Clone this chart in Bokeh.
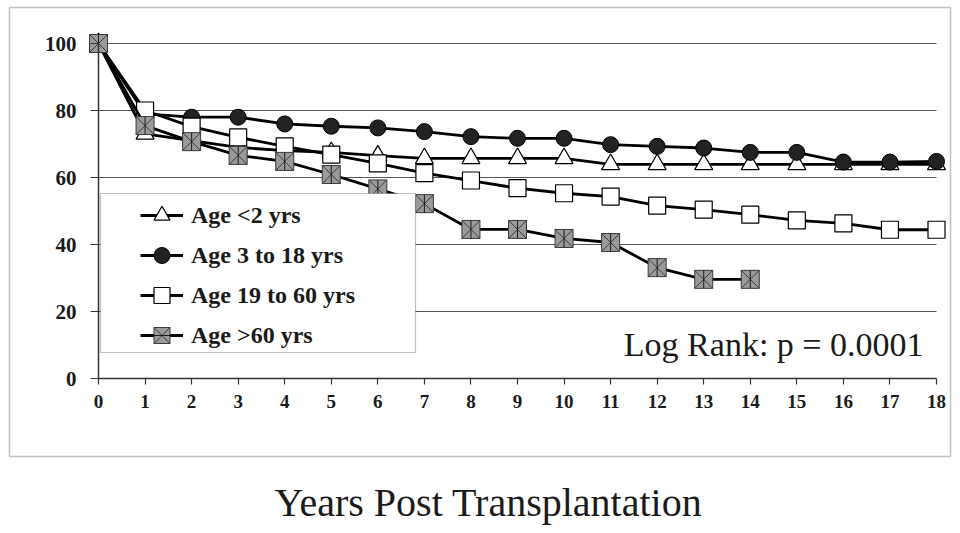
from bokeh.plotting import figure
from bokeh.models import (Range1d, Legend, LegendItem, BoxAnnotation, Label,
                          FixedTicker)
from bokeh.embed import file_html
from bokeh.resources import INLINE
import math

# ---------------- data ----------------
years = list(range(19))
years_gt60 = list(range(15))
age_lt2 = [100, 73, 71, 69, 68, 67.5, 66.5, 65.7, 65.7, 65.7, 65.7,
           63.9, 63.9, 63.9, 63.9, 63.9, 63.9, 63.9, 63.9]
age_3_18 = [100, 79, 78, 78, 76, 75.3, 74.8, 73.7, 72.2, 71.7, 71.7,
            69.8, 69.3, 68.8, 67.5, 67.5, 64.6, 64.6, 64.8]
age_19_60 = [100, 80, 75.2, 72, 69.3, 66.8, 64.2, 61.3, 59.1, 56.8, 55.3,
             54.3, 51.6, 50.4, 48.9, 47.2, 46.3, 44.4, 44.4]
age_gt60 = [100, 75.5, 70.7, 66.6, 64.8, 60.9, 56.6, 52.2, 44.5, 44.5,
            41.8, 40.6, 33.1, 29.6, 29.6]
series_names = ["Age <2 yrs", "Age 3 to 18 yrs", "Age 19 to 60 yrs", "Age >60 yrs"]
y_ticks = [0, 20, 40, 60, 80, 100]
x_ticks = years
grid_levels = [20, 40, 60, 80, 100]
x_title = "Years Post Transplantation"
note = "Log Rank: p = 0.0001"

SERIF = "Liberation Serif"
INK = "#1a1a1a"

W, H = 952, 525
# pixel geometry of the plotting area (x: 0..18 -> 98..936, y: 0..100 -> 378..43)
PX0, PX1, PY0, PY1 = 98.0, 936.0, 378.0, 43.0
ppx = (PX1 - PX0) / 18.0
ppy = (PY0 - PY1) / 100.0
xr = Range1d(-PX0 / ppx, (W - PX0) / ppx)
yr = Range1d(-(H - PY0) / ppy, PY0 / ppy)


def dx(px):
    return (px - PX0) / ppx


def dy(py):
    return (PY0 - py) / ppy


p = figure(width=W, height=H, x_range=xr, y_range=yr,
           output_backend="svg", toolbar_location=None, min_border=0)
p.outline_line_color = None
p.xgrid.visible = False
p.ygrid.visible = False
p.background_fill_color = "white"
p.border_fill_color = "white"

# axes
for ax in (p.xaxis[0], p.yaxis[0]):
    ax.fixed_location = 0
    ax.axis_line_color = "#333333"
    ax.axis_line_width = 1.5
    ax.major_tick_line_color = "#333333"
    ax.major_tick_line_width = 1.2
    ax.major_tick_in = 0
    ax.minor_tick_line_color = None
    ax.major_label_text_font = SERIF
    ax.major_label_text_font_style = "bold"
    ax.major_label_text_color = INK
p.xaxis.bounds = (0, 18)
p.yaxis.bounds = (0, 100)
p.xaxis.ticker = FixedTicker(ticks=x_ticks)
p.yaxis.ticker = FixedTicker(ticks=y_ticks)
p.xaxis.major_tick_out = 6
p.yaxis.major_tick_out = 8
p.xaxis.major_label_standoff = 10
p.yaxis.major_label_standoff = 14
p.xaxis.major_label_text_font_size = "19px"
p.yaxis.major_label_text_font_size = "21px"

# horizontal gridlines
p.segment(x0=[0] * len(grid_levels), x1=[18] * len(grid_levels),
          y0=grid_levels, y1=grid_levels, line_color="#555555", line_width=1.2)

LW = 2.8
# Age <2
l1 = p.line(years, age_lt2, line_color="black", line_width=LW)
m1 = p.scatter(years, age_lt2, marker="triangle", size=18,
               fill_color="white", line_color="black", line_width=1.2)
# Age 3-18
l2 = p.line(years, age_3_18, line_color="black", line_width=LW)
m2 = p.scatter(years, age_3_18, marker="circle", size=16,
               fill_color="#222222", line_color="black", line_width=1)
# Age 19-60
l3 = p.line(years, age_19_60, line_color="black", line_width=LW)
m3 = p.scatter(years, age_19_60, marker="square", size=17,
               fill_color="white", line_color="black", line_width=1.2)
# Age >60
l4 = p.line(years_gt60, age_gt60, line_color="black", line_width=LW)
m4a = p.scatter(years_gt60, age_gt60, marker="square_x", size=18,
                fill_color="#9a9a9a", line_color="#3a3a3a", line_width=1)
m4b = p.scatter(years_gt60, age_gt60, marker="dash", size=18, angle=math.pi / 2,
                line_color="#1a1a1a", line_width=1)

# legend box
p.add_layout(BoxAnnotation(left=dx(100), right=dx(415), top=dy(193), bottom=dy(352),
                           fill_color="white", fill_alpha=1,
                           line_color="#333333", line_width=1.2))

legend = Legend(items=[
    LegendItem(label=series_names[0], renderers=[l1, m1]),
    LegendItem(label=series_names[1], renderers=[l2, m2]),
    LegendItem(label=series_names[2], renderers=[l3, m3]),
    LegendItem(label=series_names[3], renderers=[l4, m4a, m4b]),
], location=(140, H - 355))
legend.border_line_alpha = 0
legend.background_fill_alpha = 0
legend.padding = 0
legend.margin = 0
legend.spacing = 0
legend.label_height = 39
legend.glyph_height = 40
legend.glyph_width = 43
legend.label_standoff = 8
legend.label_text_font = SERIF
legend.label_text_font_style = "bold"
legend.label_text_font_size = "24px"
legend.label_text_color = INK
p.add_layout(legend)

# outer frame
p.add_layout(BoxAnnotation(left=dx(9), right=dx(950), top=dy(7), bottom=dy(456),
                           fill_alpha=0, fill_color=None,
                           line_color="#333333", line_width=1.5))

p.add_layout(Label(x=dx(923), y=dy(344), text=note, text_align="right",
                   text_baseline="middle", text_font=SERIF,
                   text_font_size="34px", text_color=INK))
p.add_layout(Label(x=dx(488), y=dy(502), text=x_title, text_align="center",
                   text_baseline="middle", text_font=SERIF,
                   text_font_size="40px", text_color=INK))

open("out.html", "w").write(file_html(p, INLINE))
